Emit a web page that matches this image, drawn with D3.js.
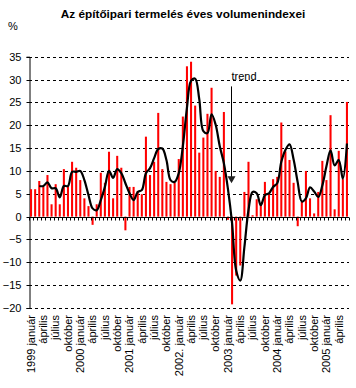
<!DOCTYPE html>
<html>
<head>
<meta charset="utf-8">
<script src="https://cdn.jsdelivr.net/npm/d3@7"></script>
<style>
  html, body { margin: 0; padding: 0; background: #fff; }
  svg { display: block; }
  text { font-family: "Liberation Sans", Arial, sans-serif; fill: #000; }
</style>
</head>
<body>
<svg id="chart" width="356" height="388"></svg>
<script>
// ---- data ----
const title = "Az építőipari termelés éves volumenindexei";
const unitLabel = "%";
const years = ["1999", "2000", "2001", "2002.", "2003", "2004", "2005"];
const monthNames = ["január", "február", "március", "április", "május", "június",
                    "július", "augusztus", "szeptember", "október", "november", "december"];
const categories = [];
years.forEach(y => monthNames.forEach(m => categories.push(y + " " + m)));
categories.length = 78; // 1999 január – 2005 június

const volumeIndex = [
  6.0, 6.0, 7.8, 6.5, 9.1, 2.7, 7.1, 2.7, 10.4, 6.5, 12.0, 10.7,
  8.0, 4.0, 2.3, -1.8, 2.7, 9.6, 7.4, 14.2, 4.0, 13.3, 10.7, -3.0,
  6.5, 6.5, 5.6, 4.9, 17.5, 9.1, 12.0, 22.7, 10.4, 7.6, 7.1, 7.4,
  12.6, 21.9, 32.9, 33.9, 24.3, 14.0, 17.3, 22.5, 28.2, 10.0, 8.7, 22.9,
  -0.7, -19.2, -12.9, -10.7, 5.4, 12.0, 0.3, 3.8, 2.7, 7.6, 4.9, 8.2,
  8.7, 20.6, 14.3, 12.4, 7.4, -2.1, 3.2, 10.0, 4.0, 0.7, 5.4, 12.2,
  8.0, 22.2, 1.6, 14.4, 8.2, 25.1
];

const trend = [
  null, null, 6.7, 6.7, 7.5, 6.2, 6.2, 4.2, 6.7, 6.7, 9.8, 9.8,
  10.0, 8.0, 4.7, 1.8, 1.4, 3.6, 6.5, 10.0, 8.5, 10.4, 9.5, 7.3,
  5.1, 3.6, 5.4, 5.8, 9.5, 10.6, 12.8, 14.8, 14.9, 12.4, 8.0, 7.6,
  9.5, 15.4, 23.8, 29.7, 30.2, 25.7, 18.7, 18.3, 22.4, 20.1, 15.4, 11.7,
  6.0, -1.5, -11.8, -14.0, -6.7, 1.4, 5.4, 5.1, 2.5, 4.7, 5.1, 6.5,
  7.3, 12.0, 14.6, 15.8, 12.5, 7.5, 3.3, 4.0, 6.4, 5.5, 4.3, 6.8,
  11.0, 14.5, 11.2, 12.4, 8.3, 16.0
];

// tick labels: every 3rd month
const xTickLabels = categories.map((c, i) => {
  if (i % 3 !== 0) return null;
  const [y, m] = c.split(" ");
  return (i % 12 === 0) ? c : m;
});
const yTicks = [35, 30, 25, 20, 15, 10, 5, 0, -5, -10, -15, -20];
const annotationText = "trend";
const annotationIndex = 49;      // category at which the arrow points
const annotationTop = 28.5;      // value where the arrow line starts
const annotationTip = 7.3;       // value where the arrow tip ends

// ---- layout ----
const svg = d3.select("#chart");
const plot = { left: 29, right: 349, top: 56.7, bottom: 308 };

const x = d3.scaleBand()
  .domain(d3.range(categories.length))
  .range([plot.left, plot.right])
  .paddingInner(0.5)
  .paddingOuter(0.25);
const step = x.step();
const y = d3.scaleLinear().domain([-20, 35]).range([plot.bottom, plot.top]);

// title
svg.append("text")
  .attr("x", 183).attr("y", 18)
  .attr("text-anchor", "middle")
  .style("font-size", "11.8px").style("font-weight", "bold")
  .text(title);

svg.append("text")
  .attr("x", 8).attr("y", 30)
  .style("font-size", "11px")
  .text(unitLabel);

// gridlines
svg.append("g").selectAll("line")
  .data(yTicks.filter(v => v !== 0))
  .join("line")
  .attr("x1", plot.left).attr("x2", plot.right)
  .attr("y1", d => Math.round(y(d)) + 0.5).attr("y2", d => Math.round(y(d)) + 0.5)
  .attr("stroke", "#000").attr("stroke-width", 1)
  .attr("stroke-dasharray", "3,3");

// y axis
const yAxis = d3.axisLeft(y).tickValues(yTicks).tickSize(3).tickFormat(d3.format("d"));
const gy = svg.append("g")
  .attr("transform", `translate(${plot.left + 0.5},0)`)
  .call(yAxis);
gy.select(".domain").attr("stroke", "#000");
gy.selectAll(".tick line").attr("stroke", "#000");
gy.selectAll(".tick text")
  .attr("x", -8)
  .style("font-size", "11px")
  .style("font-family", "'Liberation Sans', Arial, sans-serif")
  .attr("fill", "#000");
gy.selectAll(".tick").attr("transform", d => `translate(0,${Math.round(y(d)) + 0.5})`);

// bars
svg.append("g").selectAll("rect")
  .data(volumeIndex)
  .join("rect")
  .attr("x", (d, i) => x(i))
  .attr("width", x.bandwidth())
  .attr("y", d => y(Math.max(0, d)))
  .attr("height", d => Math.abs(y(d) - y(0)))
  .attr("fill", "#ff0000");

// zero axis line with monthly ticks at category boundaries
const y0 = Math.round(y(0)) + 0.5;
svg.append("line")
  .attr("x1", plot.left).attr("x2", plot.right)
  .attr("y1", y0).attr("y2", y0)
  .attr("stroke", "#000");
svg.append("g").selectAll("line")
  .data(d3.range(categories.length + 1))
  .join("line")
  .attr("x1", i => Math.round(plot.left + i * step) + 0.5)
  .attr("x2", i => Math.round(plot.left + i * step) + 0.5)
  .attr("y1", y0).attr("y2", y0 + 3)
  .attr("stroke", "#000");

// x labels
svg.append("g").selectAll("text")
  .data(xTickLabels.map((t, i) => ({ t, i })).filter(d => d.t))
  .join("text")
  .attr("transform", d => `translate(${x(d.i) + x.bandwidth() / 2 + 3.8},315) rotate(-90)`)
  .attr("text-anchor", "end")
  .style("font-size", "11px")
  .text(d => d.t);

// trend line
const line = d3.line()
  .defined(d => d != null)
  .x((d, i) => x(i) + x.bandwidth() / 2)
  .y(d => y(d))
  .curve(d3.curveCatmullRom.alpha(0.5));
svg.append("path")
  .datum(trend)
  .attr("d", line)
  .attr("fill", "none")
  .attr("stroke", "#000")
  .attr("stroke-width", 2.2)
  .attr("stroke-linejoin", "round");

// annotation
const ax = Math.round(plot.left + annotationIndex * step) + 1.5;
svg.append("line")
  .attr("x1", ax).attr("x2", ax)
  .attr("y1", y(annotationTop)).attr("y2", y(annotationTip) - 6)
  .attr("stroke", "#000").attr("stroke-width", 1);
svg.append("path")
  .attr("d", `M${ax - 4},${y(annotationTip) - 7} L${ax + 4},${y(annotationTip) - 7} L${ax},${y(annotationTip)} Z`)
  .attr("fill", "#222");
svg.append("text")
  .attr("x", ax).attr("y", 80)
  .style("font-size", "11px")
  .text(annotationText);
</script>
</body>
</html>
